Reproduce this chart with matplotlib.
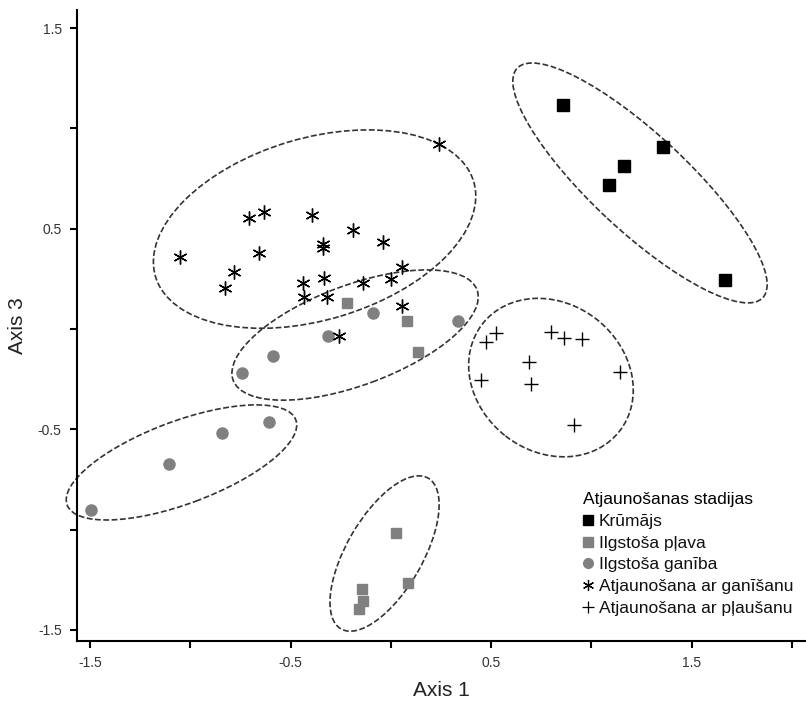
import matplotlib
matplotlib.use("Agg")
import matplotlib.pyplot as plt
from matplotlib.patches import Ellipse
from matplotlib.lines import Line2D

plt.rcParams['font.family'] = ['Liberation Sans', 'DejaVu Sans']

# Ordination scores (Axis 1, Axis 3)
krumajs_x = [0.861, 1.356, 1.163, 1.089, 1.669]
krumajs_y = [1.116, 0.907, 0.814, 0.719, 0.244]

plava_x = [-0.220, 0.081, 0.136, 0.026, 0.085, -0.142, -0.137, -0.160]
plava_y = [0.128, 0.040, -0.113, -1.017, -1.266, -1.296, -1.354, -1.396]

ganiba_x = [-0.090, 0.335, -0.311, -0.586, -0.742, -0.606, -0.843, -1.106, -1.495]
ganiba_y = [0.080, 0.041, -0.034, -0.136, -0.221, -0.465, -0.520, -0.673, -0.902]

ganisanu_x = [0.242, -1.051, -0.705, -0.634, -0.394, -0.187, -0.339, -0.336, -0.040,
              -0.657, -0.782, -0.825, -0.439, -0.331, -0.431, -0.318, -0.137, 0.001,
              0.055, 0.055, -0.257]
ganisanu_y = [0.922, 0.359, 0.552, 0.582, 0.570, 0.492, 0.422, 0.405, 0.432,
              0.379, 0.282, 0.204, 0.229, 0.253, 0.161, 0.161, 0.229, 0.248,
              0.310, 0.115, -0.034]

plausanu_x = [0.523, 0.475, 0.801, 0.864, 0.955, 0.691, 0.450, 0.701, 1.145, 0.912]
plausanu_y = [-0.022, -0.066, -0.014, -0.043, -0.048, -0.165, -0.254, -0.276, -0.213, -0.479]

# Cluster ellipses: centre x, centre y, width, height, angle (deg)
ell_cx = [1.243, -0.380, -0.178, -1.044, -0.031, 0.799]
ell_cy = [0.728, 0.498, -0.030, -0.665, -1.119, -0.242]
ell_w = [1.676, 1.656, 1.297, 1.217, 0.868, 0.868]
ell_h = [0.480, 0.906, 0.499, 0.412, 0.378, 0.738]
ell_ang = [-43.0, 16.6, 20.3, 20.4, 59.9, -38.0]

labels = ['Krūmājs', 'Ilgstoša pļava', 'Ilgstoša ganība',
          'Atjaunošana ar ganīšanu', 'Atjaunošana ar pļaušanu']

fig = plt.figure(figsize=(8.06, 7.04), dpi=100)
ax = fig.add_axes([77 / 806, 63 / 704, (806 - 77) / 806, (641 - 10) / 704])

grey = '#808080'
asterisk = (6, 2, 0)

# dashed cluster ellipses (drawn past the axis, like the original)
for cx, cy, w, h, a in zip(ell_cx, ell_cy, ell_w, ell_h, ell_ang):
    e = Ellipse((cx, cy), w, h, angle=a, fill=False, edgecolor='#333333',
                linewidth=1.2, linestyle=(0, (3.5, 1.5)), zorder=1, clip_on=False)
    ax.add_patch(e)

ax.plot(krumajs_x, krumajs_y, 's', color='black', markersize=8, linestyle='none', zorder=3)
ax.plot(plava_x, plava_y, 's', color=grey, markersize=7.5, linestyle='none', zorder=3)
ax.plot(ganiba_x, ganiba_y, 'o', color=grey, markersize=8, linestyle='none', zorder=3)
ax.plot(ganisanu_x, ganisanu_y, marker=asterisk, color='black', markersize=10,
        markeredgewidth=1.0, linestyle='none', zorder=3)
ax.plot(plausanu_x, plausanu_y, '+', color='black', markersize=10,
        markeredgewidth=1.0, linestyle='none', zorder=3)

ax.set_xlim(-1.565, 2.071)
ax.set_ylim(-1.555, 1.590)

ax.set_xticks([-1.5, -0.5, 0.5, 1.5])
ax.set_xticks([-1.0, 0.0, 1.0, 2.0], minor=True)
ax.set_yticks([-1.5, -0.5, 0.5, 1.5])
ax.set_yticks([-1.0, 0.0, 1.0], minor=True)
ax.set_xticklabels(['-1.5', '-0.5', '0.5', '1.5'])
ax.set_yticklabels(['-1.5', '-0.5', '0.5', '1.5'])
ax.tick_params(which='both', direction='out', length=5, width=1.5, color='black',
               labelsize=10, labelcolor='#333333', pad=6)

for s in ['top', 'right']:
    ax.spines[s].set_visible(False)
for s in ['left', 'bottom']:
    ax.spines[s].set_linewidth(1.5)

ax.set_xlabel('Axis 1', fontsize=15, color='#222222', labelpad=8)
ax.set_ylabel('Axis 3', fontsize=15, color='#222222', labelpad=8)

handles = [
    Line2D([], [], marker='s', color='black', linestyle='none', markersize=7),
    Line2D([], [], marker='s', color=grey, linestyle='none', markersize=7),
    Line2D([], [], marker='o', color=grey, linestyle='none', markersize=7),
    Line2D([], [], marker=asterisk, color='black', linestyle='none', markersize=8, markeredgewidth=0.9),
    Line2D([], [], marker='+', color='black', linestyle='none', markersize=9, markeredgewidth=0.9),
]
leg = ax.legend(handles, labels, title='Atjaunošanas stadijas', frameon=False,
                loc='lower left', bbox_to_anchor=(583 / 806, (704 - 616) / 704),
                bbox_transform=fig.transFigure, fontsize=12.5, title_fontsize=12.5,
                handlelength=0.6, handletextpad=0.3, labelspacing=0.38,
                borderpad=0, borderaxespad=0, alignment='left')
for t in leg.get_texts():
    t.set_color('#111111')

fig.savefig('out.png', dpi=100)
